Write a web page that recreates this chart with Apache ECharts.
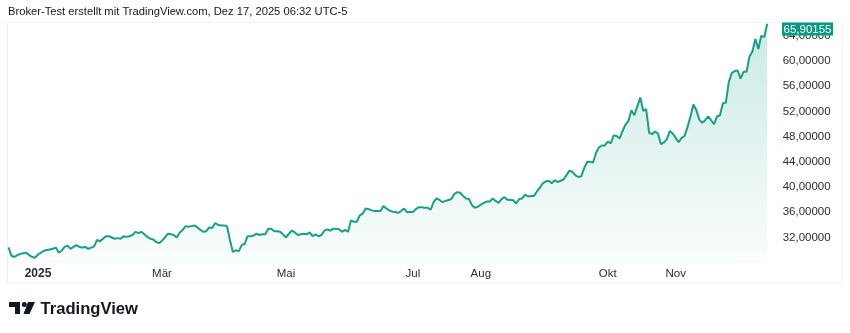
<!DOCTYPE html>
<html><head><meta charset="utf-8">
<script src="https://cdn.jsdelivr.net/npm/echarts@6/dist/echarts.min.js"></script>
<style>html,body{margin:0;padding:0;background:#fff}#c{width:850px;height:333px}</style>
</head><body><div id="c"></div>
<script>
// Daily close values (Dec 17, 2024 – Dec 17, 2025)
const prices = [
 30.44, 29.1, 28.9, 29.2, 29.4, 29.5, 29.6, 29.2, 28.9, 28.8,
 29.3, 29.6, 29.9, 30.0, 30.1, 30.2, 30.4, 29.6, 29.9, 30.5,
 30.7, 30.2, 30.5, 30.8, 30.5, 30.4, 30.5, 30.2, 30.4, 30.6,
 31.6, 31.4, 31.8, 32.2, 32.2, 32.0, 31.8, 31.9, 31.8, 32.2,
 32.1, 32.2, 32.4, 32.9, 32.7, 32.9, 32.5, 32.1, 31.8, 31.7,
 31.3, 31.1, 31.5, 32.0, 32.6, 32.5, 32.4, 32.0, 32.8, 33.2,
 33.8, 33.7, 33.8, 33.9, 33.6, 33.2, 32.9, 33.0, 33.6, 33.5,
 34.3, 34.0, 33.9, 33.9, 33.8, 31.6, 29.7, 30.0, 29.8, 30.8,
 31.0, 32.2, 32.2, 32.3, 32.6, 32.4, 32.5, 32.5, 33.4, 33.4,
 33.0, 33.0, 32.9, 32.5, 32.0, 32.6, 33.1, 32.8, 32.4, 32.5,
 32.6, 32.5, 32.8, 32.2, 32.5, 32.2, 32.4, 33.1, 33.3, 33.1,
 33.4, 33.4, 33.3, 32.9, 33.2, 32.9, 34.7, 34.5, 34.5, 35.5,
 35.8, 36.6, 36.5, 36.3, 36.2, 36.2, 36.2, 37.0, 36.6, 36.3,
 36.1, 36.05, 35.9, 36.2, 36.6, 36.0, 36.05, 36.05, 36.5, 36.8,
 36.8, 36.7, 36.7, 36.4, 37.6, 38.2, 37.95, 37.6, 37.8, 37.95,
 38.1, 38.9, 39.2, 39.1, 38.6, 38.2, 38.1, 37.1, 36.7, 36.9,
 37.2, 37.5, 37.7, 37.7, 38.2, 37.8, 37.5, 38.1, 38.4, 38.0,
 37.95, 37.9, 37.4, 38.1, 38.2, 38.8, 38.5, 38.6, 38.6, 39.3,
 39.9, 40.6, 40.9, 41.0, 40.6, 41.1, 40.8, 41.0, 41.2, 41.9,
 42.6, 42.4, 41.9, 41.6, 41.7, 43.0, 44.0, 44.0, 43.9, 45.4,
 46.3, 46.6, 46.6, 47.2, 46.95, 48.2, 48.1, 47.7, 48.9, 49.9,
 50.5, 52.2, 51.4, 52.8, 54.2, 52.1, 52.35, 48.6, 48.4, 48.8,
 48.5, 46.8, 47.1, 47.6, 48.9, 48.5, 47.8, 47.1, 47.8, 48.1,
 49.5, 51.2, 53.1, 52.2, 50.7, 50.2, 50.6, 51.2, 50.6, 50.0,
 51.2, 51.4, 53.3, 53.4, 56.7, 58.1, 58.4, 58.5, 57.2, 58.3,
 58.3, 60.7, 61.5, 63.5, 61.9, 64.0, 63.8, 65.90155
];
const startDate = '2024-12-17';
const endDate = '2025-12-17';
const holidays = ['2024-12-25', '2025-01-01', '2025-04-18', '2025-11-27'];
const xTickDates = ['2025-01-02', '2025-03-03', '2025-05-01', '2025-07-01', '2025-08-01', '2025-10-01', '2025-11-03'];
const xTickLabels = ['2025', 'Mär', 'Mai', 'Jul', 'Aug', 'Okt', 'Nov'];
const yTicks = [32, 36, 40, 44, 48, 52, 56, 60, 64];
const titleText = 'Broker-Test erstellt mit TradingView.com, Dez 17, 2025 06:32 UTC-5';

// trading-day categories
const dates = [];
for (let t = Date.parse(startDate + 'T00:00:00Z'); t <= Date.parse(endDate + 'T00:00:00Z'); t += 86400000) {
  const d = new Date(t); const wd = d.getUTCDay(); const s = d.toISOString().slice(0, 10);
  if (wd !== 0 && wd !== 6 && holidays.indexOf(s) < 0) dates.push(s);
}

const GREEN = '#089981';
const LINE = '#16a085';
const fmtNum = v => v.toFixed(5).replace('.', ',');
const chart = echarts.init(document.getElementById('c'), null, {renderer: 'canvas'});
const FONT = '"Liberation Sans", Arial, sans-serif';

chart.setOption({
  animation: false,
  backgroundColor: '#ffffff',
  title: {text: titleText, left: 8, top: 6, padding: 0, textStyle: {fontSize: 11.2, fontWeight: 'normal', color: '#131722', fontFamily: FONT}},
  grid: {left: 8.5, right: 82.8, top: 22.5, bottom: 70.3, containLabel: false},
  xAxis: {
    type: 'category', data: dates, boundaryGap: false,
    axisLine: {show: false}, axisTick: {show: false}, splitLine: {show: false},
    axisLabel: {
      interval: 0, margin: 5, fontSize: 11.5, color: '#2a2e39', fontFamily: FONT, hideOverlap: false,
      formatter: v => { const k = xTickDates.indexOf(v); if (k < 0) return ''; return k === 0 ? '{b|' + xTickLabels[k] + '}' : xTickLabels[k]; },
      rich: {b: {fontWeight: 'bold', fontSize: 12, color: '#2a2e39', fontFamily: FONT}}
    }
  },
  yAxis: {
    type: 'value', position: 'right', min: 28, max: 66.11, interval: 4,
    axisLine: {show: false}, axisTick: {show: false}, splitLine: {show: false},
    axisLabel: {margin: 15.5, fontSize: 11.5, color: '#2a2e39', fontFamily: FONT,
      showMinLabel: true, showMaxLabel: true,
      formatter: v => yTicks.indexOf(Math.round(v * 1000) / 1000) >= 0 ? fmtNum(v) : ''}
  },
  series: [{
    type: 'line', data: prices, symbol: 'none', smooth: false,
    lineStyle: {color: LINE, width: 2},
    areaStyle: {color: new echarts.graphic.LinearGradient(0, 22, 0, 262, [
      {offset: 0, color: 'rgba(8,153,129,0.30)'},
      {offset: 1, color: 'rgba(8,153,129,0.03)'}
    ], true)}
  }]
});

const last = prices[prices.length - 1];
const ly = chart.convertToPixel({yAxisIndex: 0}, last);
const boxH = 13;
const boxY = Math.max(22.5, ly - boxH / 2);

chart.setOption({
  graphic: [
    {type: 'rect', shape: {x: 7.5, y: 22.5, width: 834.5, height: 260.5}, style: {fill: 'none', stroke: '#eef0f3', lineWidth: 1}, z: 0, silent: true},
    {type: 'rect', shape: {x: 782, y: boxY, width: 51, height: boxH}, style: {fill: GREEN}, z: 100},
    {type: 'text', x: 807.5, y: boxY + boxH / 2 + 0.5, style: {text: fmtNum(last), fill: '#ffffff', fontSize: 11.5, fontFamily: FONT, align: 'center', verticalAlign: 'middle'}, z: 101},
    // TradingView logo
    {type: 'group', left: 9, top: 302, children: [
      {type: 'rect', shape: {x: 0, y: 0, width: 11, height: 5}, style: {fill: '#131722'}},
      {type: 'rect', shape: {x: 6, y: 0, width: 5, height: 12}, style: {fill: '#131722'}},
      {type: 'circle', shape: {cx: 15.3, cy: 2.5, r: 2.5}, style: {fill: '#131722'}},
      {type: 'polygon', shape: {points: [[19, 0], [26, 0], [20.5, 12], [14.5, 12]]}, style: {fill: '#131722'}}
    ]},
    {type: 'text', x: 40.5, y: 300.5, style: {text: 'TradingView', fill: '#131722', fontSize: 16.6, fontWeight: 'bold', fontFamily: FONT}}
  ]
});
</script></body></html>
